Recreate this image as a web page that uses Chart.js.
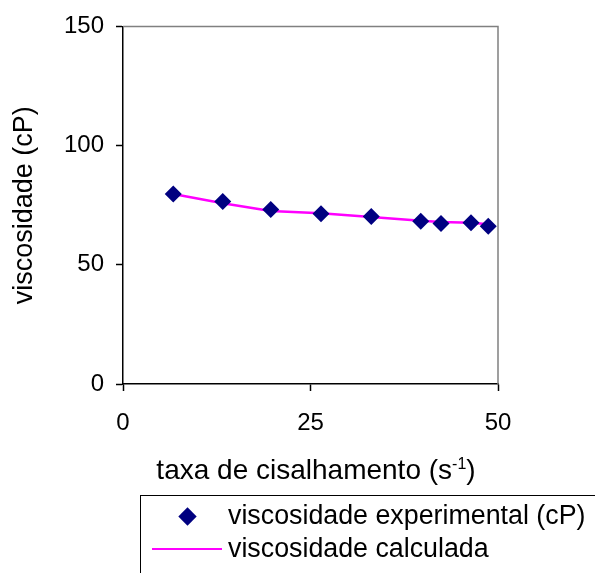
<!DOCTYPE html>
<html>
<head>
<meta charset="utf-8">
<script src="https://cdn.jsdelivr.net/npm/chart.js@4"></script>
<style>
  body { margin: 0; background: #fff; }
  #wrap { position: relative; width: 595px; height: 573px; overflow: hidden; font-family: "Liberation Sans", Arial, sans-serif; }
  #xtitle { position: absolute; left: 0; width: 632px; top: 454px; text-align: center; font-size: 28px; line-height: 32px; color: #000; }
  #xtitle sup { font-size: 16px; vertical-align: 10px; line-height: 0; }
  #legend { position: absolute; left: 140px; top: 495px; width: 520px; height: 120px; border: 1px solid #000; box-sizing: border-box; font-size: 26.8px; color: #000; }
  .row { position: absolute; left: 87px; white-space: nowrap; line-height: 32px; }
  .diamond { position: absolute; left: 40px; top: 14px; width: 13px; height: 13px; background: #000080; transform: rotate(45deg); }
  .lline { position: absolute; left: 11px; top: 52px; width: 70px; height: 2px; background: #ff00ff; }
</style>
</head>
<body>
<div id="wrap">
  <canvas id="chart" width="595" height="573"></canvas>
  <div id="xtitle">taxa de cisalhamento (s<sup>-1</sup>)</div>
  <div id="legend">
    <div class="diamond"></div>
    <div class="row" style="top:3px">viscosidade experimental (cP)</div>
    <div class="lline"></div>
    <div class="row" style="top:36px">viscosidade calculada</div>
  </div>
</div>
<script>
// taxa de cisalhamento (s-1)
const taxa = [6.7, 13.3, 19.7, 26.4, 33.1, 39.7, 42.4, 46.4, 48.7];
const viscExperimental = [79.7, 76.5, 73.2, 71.4, 70.3, 68.3, 67.3, 67.6, 66.2];
const viscCalculada = [79.7, 75.8, 72.6, 71.6, 70.0, 68.5, 68.0, 67.6, 67.0];
const xTicks = [0, 25, 50];
const yTicks = [0, 50, 100, 150];

const fonte = { family: '"Liberation Sans", Arial, sans-serif', size: 24 };

const molduraPlugin = {
    id: 'moldura',
    afterDraw(chart) {
        const a = chart.chartArea;
        const ctx = chart.ctx;
        ctx.save();
        ctx.strokeStyle = '#808080';
        ctx.lineWidth = 1.5;
        ctx.beginPath();
        ctx.moveTo(a.left, a.top);
        ctx.lineTo(a.right, a.top);
        ctx.lineTo(a.right, a.bottom);
        ctx.stroke();
        ctx.restore();
    }
};

new Chart(document.getElementById('chart').getContext('2d'), {
    type: 'scatter',
    data: {
        datasets: [
            {
                label: 'viscosidade experimental (cP)',
                data: taxa.map((x, i) => ({ x: x, y: viscExperimental[i] })),
                pointStyle: 'rectRot',
                pointRadius: 8.5,
                backgroundColor: '#000080',
                borderColor: '#000080',
                borderWidth: 0,
                showLine: false
            },
            {
                label: 'viscosidade calculada',
                data: taxa.map((x, i) => ({ x: x, y: viscCalculada[i] })),
                showLine: true,
                borderColor: '#ff00ff',
                borderWidth: 2.5,
                pointRadius: 0,
                tension: 0
            }
        ]
    },
    options: {
        responsive: false,
        animation: false,
        layout: { padding: { left: 0, top: 22, right: 97, bottom: 0 } },
        plugins: { legend: { display: false }, tooltip: { enabled: false } },
        scales: {
            x: {
                type: 'linear', min: 0, max: 50,
                afterBuildTicks: s => { s.ticks = xTicks.map(v => ({ value: v })); },
                afterFit: s => { s.height = 189; },
                ticks: { color: '#000', font: fonte, padding: 18, maxRotation: 0 },
                grid: { drawOnChartArea: false, tickLength: 7, tickColor: '#000', tickWidth: 1.5 },
                border: { color: '#000', width: 1.5 }
            },
            y: {
                min: 0, max: 150,
                afterBuildTicks: s => { s.ticks = yTicks.map(v => ({ value: v })); },
                afterFit: s => { s.width = 123; },
                ticks: { color: '#000', font: fonte, padding: 12 },
                grid: { drawOnChartArea: false, tickLength: 7, tickColor: '#000', tickWidth: 1.5 },
                border: { color: '#000', width: 1.5 },
                title: { display: true, text: 'viscosidade (cP)', color: '#000', font: { family: fonte.family, size: 27 }, padding: { top: 8, bottom: 0 } }
            }
        }
    },
    plugins: [molduraPlugin]
});
</script>
</body>
</html>
